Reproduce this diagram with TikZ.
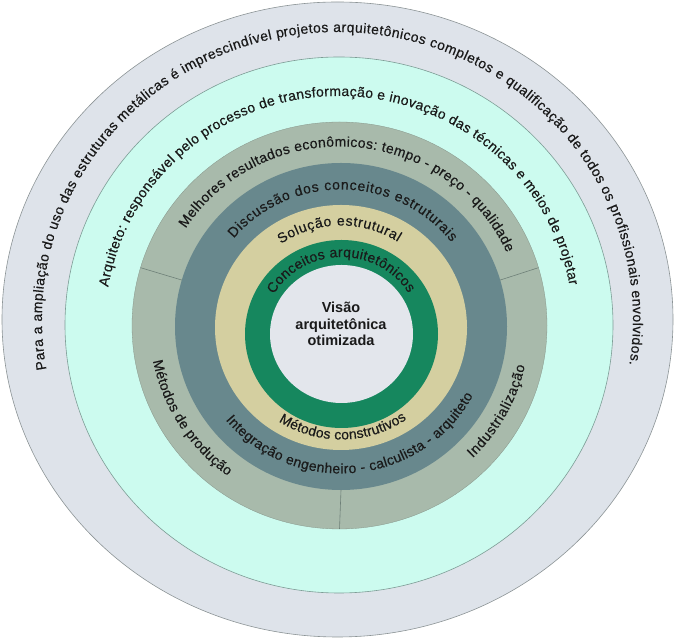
\documentclass[tikz,border=0pt]{standalone}
\usepackage{fontspec}
\setmainfont{Liberation Sans}
\newfontfamily\ringfont{Liberation Sans}[FakeBold=0.4]
\usetikzlibrary{decorations.text}
\definecolor{outerc}{HTML}{DEE3EA}
\definecolor{outerb}{HTML}{8C9496}
\definecolor{mintc}{HTML}{CCFBEF}
\definecolor{mintb}{HTML}{7D9C95}
\definecolor{ggc}{HTML}{A8BAAB}
\definecolor{slatec}{HTML}{68888D}
\definecolor{khakic}{HTML}{D4CFA0}
\definecolor{greenc}{HTML}{16875E}
\definecolor{innerc}{HTML}{E3E6EC}
\definecolor{divc}{HTML}{6E8078}
\definecolor{txt}{HTML}{1A1A1A}
\newcommand{\rf}{\ringfont\fontsize{14}{17}\selectfont}
\tikzset{
  ringtext/.style={decorate, decoration={text along path, text align={fit to path}, text color=txt, text={|\rf|#1}}},
  divider/.style={draw=divc, line width=0.6pt}
}
\begin{document}
\begin{tikzpicture}[x=1pt,y=1pt]
\useasboundingbox (0,0) rectangle (675,639);
\fill[white] (0,0) rectangle (675,639);
% rings
\filldraw[fill=outerc, draw=outerb, line width=0.6pt] (337.5,319.5) ellipse [x radius=335.5pt, y radius=317.5pt];
\filldraw[fill=mintc, draw=mintb, line width=0.6pt] (339,314) ellipse [x radius=274pt, y radius=268pt];
\filldraw[fill=ggc, draw=ggc!80!black, line width=0.3pt] (339.5,313.5) ellipse [x radius=207.5pt, y radius=203.5pt];
\fill[slatec] (341,312.5) ellipse [x radius=166pt, y radius=163.5pt];
% dividers
\draw[divider] ([shift={(163.5:207.5pt and 203.5pt)}]339.5,313.5) -- ([shift={(163.5:166pt and 163.5pt)}]341,312.5);
\draw[divider] ([shift={(16.5:207.5pt and 203.5pt)}]339.5,313.5) -- ([shift={(16.5:166pt and 163.5pt)}]341,312.5);
\draw[divider] ([shift={(270:207.5pt and 203.5pt)}]339.5,313.5) -- ([shift={(270:166pt and 163.5pt)}]341,312.5);
\fill[khakic] (341,311.5) ellipse [x radius=126pt, y radius=122.5pt];
\fill[greenc] (341.5,305) ellipse [x radius=96.5pt, y radius=94pt];
\fill[innerc] (341.5,305) ellipse [x radius=71.5pt, y radius=69pt];
% ring texts (top, clockwise)
\path[ringtext={Para a ampliação do uso das estruturas metálicas é imprescindível projetos arquitetônicos completos e qualificação de todos os profissionais envolvidos.}]
  ([shift={(190:295.5pt and 287.5pt)}]337.5,319.5) arc[start angle=190, end angle=-9, x radius=295.5pt, y radius=287.5pt];
\path[ringtext={Arquiteto: responsável pelo processo de transformação e inovação das técnicas e meios de projetar}]
  ([shift={(170.5:234pt and 229pt)}]339,314) arc[start angle=170.5, end angle=10, x radius=234pt, y radius=229pt];
\path[ringtext={Melhores resultados econômicos: tempo - preço - qualidade}]
  ([shift={(147.2:183pt and 179pt)}]339.5,313.5) arc[start angle=147.2, end angle=24, x radius=183pt, y radius=179pt];
\path[ringtext={Discussão dos conceitos estruturais}]
  ([shift={(140:140pt and 137pt)}]341,312.5) arc[start angle=140, end angle=38, x radius=140pt, y radius=137pt];
\path[ringtext={Solução estrutural}]
  ([shift={(125:104.5pt and 102pt)}]341,311.5) arc[start angle=125, end angle=57, x radius=104.5pt, y radius=102pt];
\path[ringtext={Conceitos arquitetônicos}]
  ([shift={(149:79pt and 77pt)}]341.5,305) arc[start angle=149, end angle=32, x radius=79pt, y radius=77pt];
% ring texts (bottom, counterclockwise)
\path[ringtext={Métodos construtivos}]
  ([shift={(237:114.5pt and 112pt)}]341,311.5) arc[start angle=237, end angle=305, x radius=114.5pt, y radius=112pt];
\path[ringtext={Integração engenheiro - calculista - arquiteto}]
  ([shift={(219.5:149.5pt and 147pt)}]341,312.5) arc[start angle=219.5, end angle=332, x radius=149.5pt, y radius=147pt];
\path[ringtext={Métodos de produção}]
  ([shift={(191:190pt and 186pt)}]339.5,313.5) arc[start angle=191, end angle=234, x radius=190pt, y radius=186pt];
\path[ringtext={Industrialização}]
  ([shift={(-45.5:190pt and 186pt)}]339.5,313.5) arc[start angle=-45.5, end angle=-12.5, x radius=190pt, y radius=186pt];
% centre
\node[align=center, font=\fontsize{14.5}{16.5}\selectfont\bfseries, text=txt] (centre) at (341,315) {Visão\\arquitetônica\\otimizada};
\end{tikzpicture}
\end{document}
